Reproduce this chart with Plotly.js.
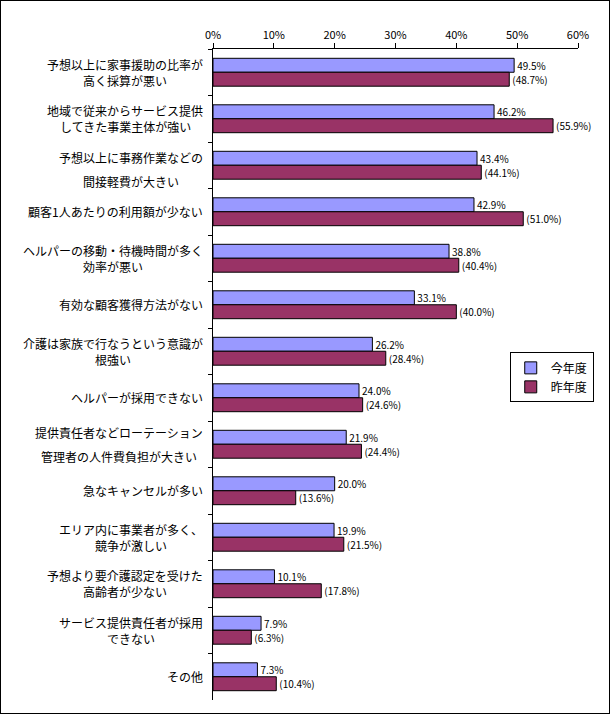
<!DOCTYPE html>
<html><head><meta charset="utf-8">
<script src="https://cdn.plot.ly/plotly-3.0.1.min.js"></script>
<style>
html,body{margin:0;padding:0;background:#fff;}
#frame{position:absolute;left:0;top:0;width:608px;height:712px;border:1px solid #000;}
#chart{position:absolute;left:0;top:0;width:608px;height:712px;}
</style></head>
<body><div id="frame"><div id="chart"></div></div>
<script>
const categories = [
  "予想以上に家事援助の比率が\n高く採算が悪い",
  "地域で従来からサービス提供\nしてきた事業主体が強い",
  "予想以上に事務作業などの\n間接軽費が大きい",
  "顧客1人あたりの利用額が少ない",
  "ヘルパーの移動・待機時間が多く\n効率が悪い",
  "有効な顧客獲得方法がない",
  "介護は家族で行なうという意識が\n根強い",
  "ヘルパーが採用できない",
  "提供責任者などローテーション\n管理者の人件費負担が大きい",
  "急なキャンセルが多い",
  "エリア内に事業者が多く、\n競争が激しい",
  "予想より要介護認定を受けた\n高齢者が少ない",
  "サービス提供責任者が採用\nできない",
  "その他"
];
const thisYear = [49.5, 46.2, 43.4, 42.9, 38.8, 33.1, 26.2, 24.0, 21.9, 20.0, 19.9, 10.1, 7.9, 7.3];
const lastYear = [48.7, 55.9, 44.1, 51.0, 40.4, 40.0, 28.4, 24.6, 24.4, 13.6, 21.5, 17.8, 6.3, 10.4];
const seriesNames = ["今年度", "昨年度"];

const FONT = "'Noto Sans CJK JP', 'MS PGothic', sans-serif";
const wideGap = new Set([2, 8]);

const traceA = {
  type: 'bar', orientation: 'h', name: seriesNames[0],
  y: categories, x: thisYear,
  text: thisYear.map(v => v.toFixed(1) + '%'),
  textposition: 'outside', cliponaxis: false, constraintext: 'none',
  textfont: {family: FONT, size: 10, color: '#000'},
  marker: {color: '#9999FF', line: {color: '#000', width: 1}},
  hoverinfo: 'none'
};
const traceB = {
  type: 'bar', orientation: 'h', name: seriesNames[1],
  y: categories, x: lastYear,
  text: lastYear.map(v => '(' + v.toFixed(1) + '%)'),
  textposition: 'outside', cliponaxis: false, constraintext: 'none',
  textfont: {family: FONT, size: 10, color: '#000'},
  marker: {color: '#993366', line: {color: '#000', width: 1}},
  hoverinfo: 'none'
};

const annotations = [];
categories.forEach((c, idx) => {
  const lines = c.split('\n');
  const gap = wideGap.has(idx) ? 24 : 16;
  const n = lines.length;
  lines.forEach((ln, i) => {
    annotations.push({
      xref: 'paper', yref: 'y', x: 0, y: c,
      text: ln, showarrow: false,
      xanchor: 'right', xshift: -8,
      yshift: ((n - 1) / 2 - i) * gap + (idx === 2 ? -4 : 0),
      font: {family: FONT, size: 12, color: '#000'},
      _group: idx
    });
  });
});

const layout = {
  width: 608, height: 712,
  margin: {l: 212, r: 31, t: 48, b: 13, pad: 0},
  paper_bgcolor: '#fff', plot_bgcolor: '#fff',
  barmode: 'group', bargap: 0.4, bargroupgap: 0,
  showlegend: true,
  legend: {
    x: 0.813, xanchor: 'left', y: 0.534, yanchor: 'top',
    bordercolor: '#000', borderwidth: 1, bgcolor: '#fff',
    font: {family: FONT, size: 12, color: '#000'},
    traceorder: 'normal', itemwidth: 30, tracegroupgap: 2
  },
  xaxis: {
    side: 'top', range: [0, 60], dtick: 10, ticksuffix: '%',
    showgrid: false, zeroline: false,
    showline: true, linecolor: '#000', linewidth: 1,
    ticks: 'outside', ticklen: 5, tickcolor: '#000',
    tickfont: {family: FONT, size: 11, color: '#000'},
    fixedrange: true
  },
  yaxis: {
    type: 'category', autorange: 'reversed',
    showticklabels: false, showgrid: false, zeroline: false,
    showline: true, linecolor: '#000', linewidth: 1,
    ticks: 'outside', ticklen: 4, tickcolor: '#000', tickson: 'boundaries',
    fixedrange: true
  },
  annotations: annotations.map(a => { const b = Object.assign({}, a); delete b._group; return b; })
};

Plotly.newPlot('chart', [traceA, traceB], layout, {staticPlot: true}).then(gd => {
  const groups = {};
  const nodes = gd.querySelectorAll('.annotation');
  annotations.forEach((a, k) => { (groups[a._group] = groups[a._group] || []).push(k); });
  const widths = [];
  nodes.forEach((nd, k) => { const t = nd.querySelector('text'); widths[k] = t ? t.getComputedTextLength() : 0; });
  const upd = {};
  Object.values(groups).forEach(ks => {
    if (ks.length < 2) return;
    const maxW = Math.max(...ks.map(k => widths[k]));
    ks.forEach(k => { upd['annotations[' + k + '].xshift'] = -8 - (maxW - widths[k]) / 2; });
  });
  Plotly.relayout(gd, upd);
});
</script>
</body></html>
